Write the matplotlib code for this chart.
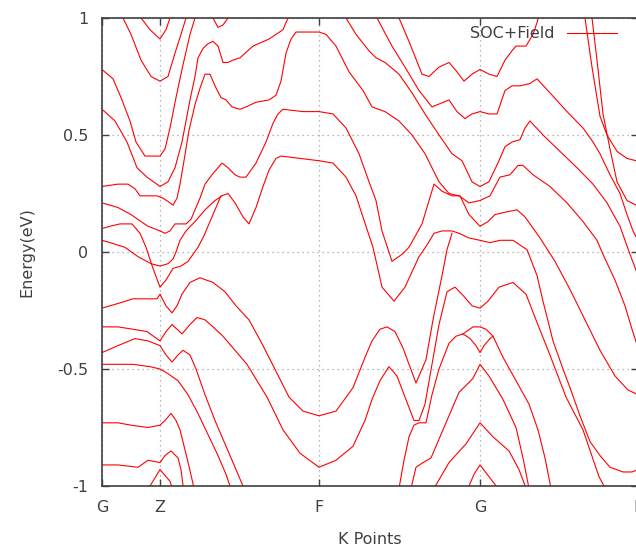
import numpy as np
import matplotlib.pyplot as plt

# high symmetry points along the path
kpt_pos = [0.0, 0.58, 2.17, 3.78, 5.36]
kpt_lab = ['G', 'Z', 'F', 'G', 'L']

yticks = [-1, -0.5, 0, 0.5, 1]
ytick_lab = ['-1', '-0.5', '0', '0.5', '1']

# bands: k along the path, energy (eV)
b01_k = [0.34, 0.39, 0.48, 0.58, 0.64, 0.68, 0.71]
b01_e = [1.03, 1.00, 0.95, 0.91, 0.95, 1.00, 1.03]

b02_k = [0.16, 0.21, 0.29, 0.39, 0.49, 0.58, 0.66, 0.73, 0.79, 0.84, 0.86]
b02_e = [1.03, 1.00, 0.93, 0.82, 0.75, 0.73, 0.75, 0.85, 0.93, 1.00, 1.03]

b03_k = [0.00, 0.11, 0.19, 0.28, 0.34, 0.43, 0.50, 0.58, 0.63, 0.68, 0.74, 0.81, 0.88, 0.93, 0.95]
b03_e = [0.78, 0.74, 0.66, 0.56, 0.47, 0.41, 0.41, 0.41, 0.44, 0.53, 0.66, 0.80, 0.93, 1.00, 1.03]

b04_k = [0.00, 0.13, 0.25, 0.35, 0.45, 0.58, 0.66, 0.73, 0.80, 0.88, 0.93, 0.96, 1.01, 1.06, 1.11,
         1.16, 1.21, 1.26, 1.31, 1.38, 1.51, 1.67, 1.81, 1.86, 1.88]
b04_e = [0.61, 0.56, 0.47, 0.36, 0.32, 0.28, 0.30, 0.36, 0.47, 0.65, 0.75, 0.83, 0.87, 0.89, 0.90,
         0.88, 0.81, 0.81, 0.82, 0.83, 0.88, 0.91, 0.95, 1.00, 1.03]

b05_k = [0.00, 0.16, 0.26, 0.33, 0.38, 0.46, 0.55, 0.61, 0.68, 0.71, 0.75, 0.78, 0.82, 0.87, 0.93,
         0.98, 1.03, 1.08, 1.13, 1.19, 1.24, 1.30, 1.38, 1.44, 1.54, 1.67, 1.74, 1.79, 1.84, 1.89,
         1.94, 2.01, 2.17, 2.24, 2.34, 2.47, 2.61, 2.70, 2.83, 2.97, 3.10, 3.23, 3.37, 3.47, 3.57,
         3.67, 3.78, 3.88, 3.98, 4.08, 4.16, 4.21, 4.31, 4.48, 4.65, 4.81, 4.95, 5.01, 5.13, 5.23,
         5.30, 5.36]
b05_e = [0.28, 0.29, 0.29, 0.27, 0.24, 0.24, 0.24, 0.23, 0.21, 0.20, 0.23, 0.29, 0.39, 0.52, 0.63,
         0.70, 0.76, 0.76, 0.71, 0.66, 0.65, 0.62, 0.61, 0.62, 0.64, 0.65, 0.67, 0.73, 0.85, 0.91,
         0.94, 0.94, 0.94, 0.93, 0.88, 0.77, 0.69, 0.62, 0.60, 0.56, 0.50, 0.42, 0.30, 0.25, 0.24,
         0.21, 0.22, 0.24, 0.32, 0.33, 0.37, 0.37, 0.33, 0.28, 0.21, 0.13, 0.05, -0.01, -0.12, -0.23,
         -0.33, -0.41]

b06_k = [2.41, 2.44, 2.54, 2.67, 2.74, 2.83, 2.97, 3.10, 3.23, 3.37, 3.50, 3.60, 3.70, 3.78, 3.87,
         3.97, 4.03, 4.10, 4.18, 4.23, 4.28, 4.41, 4.58, 4.75, 4.91, 5.05, 5.18, 5.28, 5.36]
b06_e = [1.03, 1.00, 0.93, 0.86, 0.83, 0.81, 0.76, 0.68, 0.59, 0.50, 0.42, 0.39, 0.30, 0.28, 0.30,
         0.39, 0.45, 0.47, 0.48, 0.53, 0.56, 0.50, 0.43, 0.36, 0.29, 0.21, 0.11, -0.01, -0.10]

b07_k = [2.96, 2.97, 3.07, 3.20, 3.27, 3.37, 3.47, 3.55, 3.62, 3.70, 3.78, 3.87, 3.95, 4.03, 4.10,
         4.14, 4.24, 4.31, 4.35, 4.38]
b07_e = [1.03, 1.00, 0.90, 0.76, 0.75, 0.79, 0.81, 0.77, 0.73, 0.76, 0.78, 0.76, 0.75, 0.82, 0.86,
         0.88, 0.88, 0.93, 0.98, 1.03]

b08_k = [2.73, 2.75, 2.90, 3.03, 3.17, 3.30, 3.47, 3.55, 3.63, 3.70, 3.78, 3.87, 3.95, 4.03, 4.10,
         4.18, 4.28, 4.35, 4.48, 4.65, 4.81, 4.91, 4.98, 5.08, 5.18, 5.25, 5.31, 5.36]
b08_e = [1.03, 1.00, 0.88, 0.79, 0.69, 0.62, 0.65, 0.60, 0.57, 0.59, 0.60, 0.59, 0.59, 0.69, 0.71,
         0.71, 0.72, 0.74, 0.68, 0.60, 0.53, 0.47, 0.42, 0.33, 0.25, 0.16, 0.09, 0.05]

b09_k = [0.00, 0.16, 0.29, 0.39, 0.46, 0.58, 0.63, 0.68, 0.73, 0.78, 0.84, 0.89, 0.94, 0.98, 1.03,
         1.10, 1.16, 1.20, 1.26, 1.33, 1.38, 1.44, 1.54, 1.64, 1.71, 1.76, 1.81, 2.01, 2.17, 2.31,
         2.44, 2.57, 2.67, 2.74, 2.80, 2.90, 3.00, 3.07, 3.20, 3.32, 3.40, 3.50, 3.58, 3.67, 3.78,
         3.86, 3.93, 4.03, 4.15, 4.23, 4.38, 4.53, 4.68, 4.83, 4.98, 5.13, 5.26, 5.36]
b09_e = [0.21, 0.19, 0.16, 0.13, 0.11, 0.09, 0.08, 0.09, 0.12, 0.12, 0.12, 0.14, 0.19, 0.23, 0.29,
         0.33, 0.36, 0.38, 0.36, 0.33, 0.32, 0.32, 0.38, 0.47, 0.55, 0.59, 0.61, 0.60, 0.60, 0.59,
         0.53, 0.42, 0.30, 0.22, 0.09, -0.04, -0.01, 0.02, 0.12, 0.29, 0.26, 0.24, 0.24, 0.16, 0.11,
         0.13, 0.16, 0.17, 0.18, 0.15, 0.06, -0.04, -0.16, -0.29, -0.42, -0.53, -0.59, -0.61]

b10_k = [0.00, 0.08, 0.23, 0.36, 0.49, 0.58, 0.66, 0.71, 0.74, 0.78, 0.84, 0.93, 1.03, 1.13, 1.20,
         1.26, 1.33, 1.41, 1.47, 1.54, 1.61, 1.67, 1.74, 1.79, 2.17, 2.31, 2.44, 2.54, 2.64, 2.71,
         2.80, 2.92, 3.03, 3.17, 3.25, 3.32, 3.40, 3.50, 3.57, 3.67, 3.78, 3.88, 3.98, 4.11, 4.18,
         4.25, 4.35, 4.41, 4.51, 4.61, 4.68, 4.78, 4.88, 4.98, 5.08, 5.21, 5.30, 5.36]
b10_e = [0.05, 0.04, 0.02, -0.02, -0.05, -0.06, -0.05, -0.03, 0.00, 0.05, 0.09, 0.13, 0.18, 0.22, 0.24,
         0.25, 0.21, 0.15, 0.12, 0.19, 0.28, 0.35, 0.40, 0.41, 0.39, 0.38, 0.32, 0.24, 0.11, 0.02,
         -0.15, -0.21, -0.15, -0.02, 0.03, 0.08, 0.09, 0.09, 0.08, 0.06, 0.05, 0.04, 0.05, 0.05, 0.03,
         0.01, -0.10, -0.21, -0.38, -0.50, -0.58, -0.70, -0.81, -0.87, -0.92, -0.94, -0.94, -0.93]

b11_k = [0.00, 0.08, 0.18, 0.30, 0.38, 0.44, 0.51, 0.58, 0.64, 0.71, 0.79, 0.86, 0.96, 1.02, 1.08,
         1.14, 1.19]
b11_e = [0.10, 0.11, 0.12, 0.12, 0.08, 0.02, -0.07, -0.15, -0.12, -0.07, -0.06, -0.04, 0.02, 0.07, 0.13,
         0.19, 0.24]

b12_k = [0.00, 0.16, 0.31, 0.48, 0.55, 0.58, 0.64, 0.70, 0.75, 0.80, 0.88, 0.98, 1.11, 1.23, 1.34,
         1.47, 1.61, 1.74, 1.87, 2.01, 2.17, 2.34, 2.51, 2.63, 2.70, 2.78, 2.85, 2.93, 3.01, 3.07,
         3.14, 3.24, 3.31, 3.41, 3.45, 3.50]
b12_e = [-0.24, -0.22, -0.20, -0.20, -0.20, -0.18, -0.23, -0.26, -0.23, -0.18, -0.13, -0.11, -0.13, -0.17, -0.23,
         -0.29, -0.40, -0.51, -0.62, -0.68, -0.70, -0.68, -0.58, -0.45, -0.38, -0.33, -0.32, -0.34, -0.41, -0.48,
         -0.56, -0.46, -0.29, -0.08, 0.01, 0.08]

b13_k = [0.00, 0.16, 0.31, 0.45, 0.58, 0.64, 0.70, 0.75, 0.80, 0.88, 0.95, 1.03, 1.11, 1.21, 1.31,
         1.45, 1.65, 1.81, 1.98, 2.17, 2.34, 2.51, 2.63, 2.70, 2.78, 2.87, 2.95, 3.03, 3.12, 3.17,
         3.23, 3.30, 3.37, 3.45, 3.53, 3.62, 3.70, 3.78, 3.86, 3.97, 4.11, 4.24, 4.34, 4.47, 4.64,
         4.81, 4.97, 5.02]
b13_e = [-0.32, -0.32, -0.33, -0.34, -0.38, -0.34, -0.31, -0.33, -0.35, -0.31, -0.28, -0.29, -0.32, -0.36, -0.41,
         -0.48, -0.62, -0.76, -0.86, -0.92, -0.89, -0.83, -0.72, -0.63, -0.55, -0.49, -0.53, -0.62, -0.72, -0.72,
         -0.65, -0.48, -0.31, -0.17, -0.15, -0.19, -0.23, -0.24, -0.21, -0.15, -0.13, -0.18, -0.29, -0.43, -0.62,
         -0.76, -0.96, -1.00]

b14_k = [0.00, 0.16, 0.33, 0.46, 0.58, 0.64, 0.70, 0.76, 0.81, 0.88, 0.94, 1.03, 1.13, 1.23, 1.33, 1.41, 1.44]
b14_e = [-0.43, -0.40, -0.37, -0.38, -0.40, -0.44, -0.47, -0.44, -0.42, -0.44, -0.50, -0.61, -0.72, -0.82, -0.92, -1.00, -1.03]

b15_k = [0.00, 0.16, 0.31, 0.48, 0.58, 0.66, 0.76, 0.86, 0.96, 1.06, 1.16, 1.24, 1.28, 1.30]
b15_e = [-0.48, -0.48, -0.48, -0.49, -0.50, -0.52, -0.55, -0.61, -0.69, -0.78, -0.87, -0.95, -1.00, -1.03]

b16_k = [0.00, 0.16, 0.29, 0.46, 0.58, 0.63, 0.69, 0.74, 0.78, 0.85, 0.91, 0.93]
b16_e = [-0.73, -0.73, -0.74, -0.75, -0.74, -0.72, -0.69, -0.72, -0.76, -0.88, -0.99, -1.03]

b17_k = [0.00, 0.16, 0.36, 0.46, 0.58, 0.63, 0.69, 0.76, 0.79, 0.82]
b17_e = [-0.91, -0.91, -0.92, -0.89, -0.90, -0.87, -0.85, -0.88, -0.93, -1.03]

b18_k = [0.45, 0.48, 0.58, 0.68, 0.72]
b18_e = [-1.03, -1.00, -0.93, -0.98, -1.03]

b19_k = [2.97, 3.02, 3.07, 3.12, 3.17, 3.24, 3.30, 3.37, 3.47, 3.54, 3.61, 3.71, 3.78, 3.84, 3.91,
         4.01, 4.14, 4.27, 4.36, 4.43, 4.49]
b19_e = [-1.01, -0.89, -0.79, -0.74, -0.73, -0.73, -0.61, -0.50, -0.39, -0.36, -0.35, -0.32, -0.32, -0.33, -0.36,
         -0.45, -0.55, -0.65, -0.76, -0.88, -1.01]

b20_k = [3.61, 3.68, 3.74, 3.78, 3.82, 3.88, 3.91]
b20_e = [-0.35, -0.37, -0.40, -0.43, -0.40, -0.37, -0.36]

b21_k = [3.09, 3.14, 3.21, 3.29, 3.41, 3.57, 3.71, 3.78, 3.87, 4.01, 4.14, 4.21, 4.27]
b21_e = [-1.01, -0.92, -0.90, -0.88, -0.76, -0.60, -0.54, -0.48, -0.53, -0.63, -0.75, -0.88, -1.01]

b22_k = [3.32, 3.47, 3.64, 3.78, 3.91, 4.07, 4.17, 4.24]
b22_e = [-1.01, -0.90, -0.82, -0.73, -0.79, -0.85, -0.93, -1.01]

b23_k = [3.66, 3.72, 3.78, 3.87, 3.96]
b23_e = [-1.01, -0.95, -0.91, -0.96, -1.01]

b24_k = [4.82, 4.83, 4.90, 4.98, 5.05, 5.15, 5.25, 5.34, 5.36]
b24_e = [1.03, 1.00, 0.79, 0.58, 0.50, 0.43, 0.40, 0.39, 0.39]

b25_k = [4.88, 4.90, 4.95, 5.01, 5.08, 5.15, 5.25, 5.34, 5.36]
b25_e = [1.03, 1.00, 0.82, 0.59, 0.44, 0.30, 0.22, 0.20, 0.19]

b26_k = [1.07, 1.11, 1.16, 1.21, 1.26, 1.29]
b26_e = [1.03, 1.00, 0.96, 0.97, 1.00, 1.03]

bands = [(b01_k, b01_e), (b02_k, b02_e), (b03_k, b03_e), (b04_k, b04_e), (b05_k, b05_e),
         (b06_k, b06_e), (b07_k, b07_e), (b08_k, b08_e), (b09_k, b09_e), (b10_k, b10_e),
         (b11_k, b11_e), (b12_k, b12_e), (b13_k, b13_e), (b14_k, b14_e), (b15_k, b15_e),
         (b16_k, b16_e), (b17_k, b17_e), (b18_k, b18_e), (b19_k, b19_e), (b20_k, b20_e),
         (b21_k, b21_e), (b22_k, b22_e), (b23_k, b23_e), (b24_k, b24_e), (b25_k, b25_e),
         (b26_k, b26_e)]

txt = '#404040'
W, H = 636, 556
fig = plt.figure(figsize=(W / 100, H / 100), dpi=100)
ax = fig.add_axes([102 / W, 70 / H, 536 / W, 468 / H])

for i, (k, e) in enumerate(bands):
    ax.plot(k, e, color='#ff0000', lw=0.8, label='SOC+Field' if i == 0 else None)

ax.set_xlim(kpt_pos[0], kpt_pos[-1])
ax.set_ylim(-1, 1)
ax.set_xticks(kpt_pos)
ax.set_xticklabels(kpt_lab)
ax.set_yticks(yticks)
ax.set_yticklabels(ytick_lab)
ax.tick_params(direction='in', length=5, width=1, top=True, right=True,
               colors=txt, labelsize=11.5, pad=10)
ax.grid(True, linestyle=(0, (1, 3)), color='#a0a0a0', lw=0.9)
for s in ax.spines.values():
    s.set_color(txt)
    s.set_linewidth(1.2)

ax.legend(loc='center right', bbox_to_anchor=(617 / W, 1 - 34 / H),
          bbox_transform=fig.transFigure, frameon=False, markerfirst=False,
          handlelength=3.1, handletextpad=0.8, borderpad=0, borderaxespad=0,
          prop={'size': 11.5}, labelcolor=txt)

fig.text(27 / W, 1 - 252 / H, 'Energy(eV)', rotation=90, ha='center', va='center',
         fontsize=11.5, color=txt)
fig.text(370 / W, 1 - 540 / H, 'K Points', ha='center', va='center',
         fontsize=11.5, color=txt)

fig.savefig('out.png', dpi=100)
